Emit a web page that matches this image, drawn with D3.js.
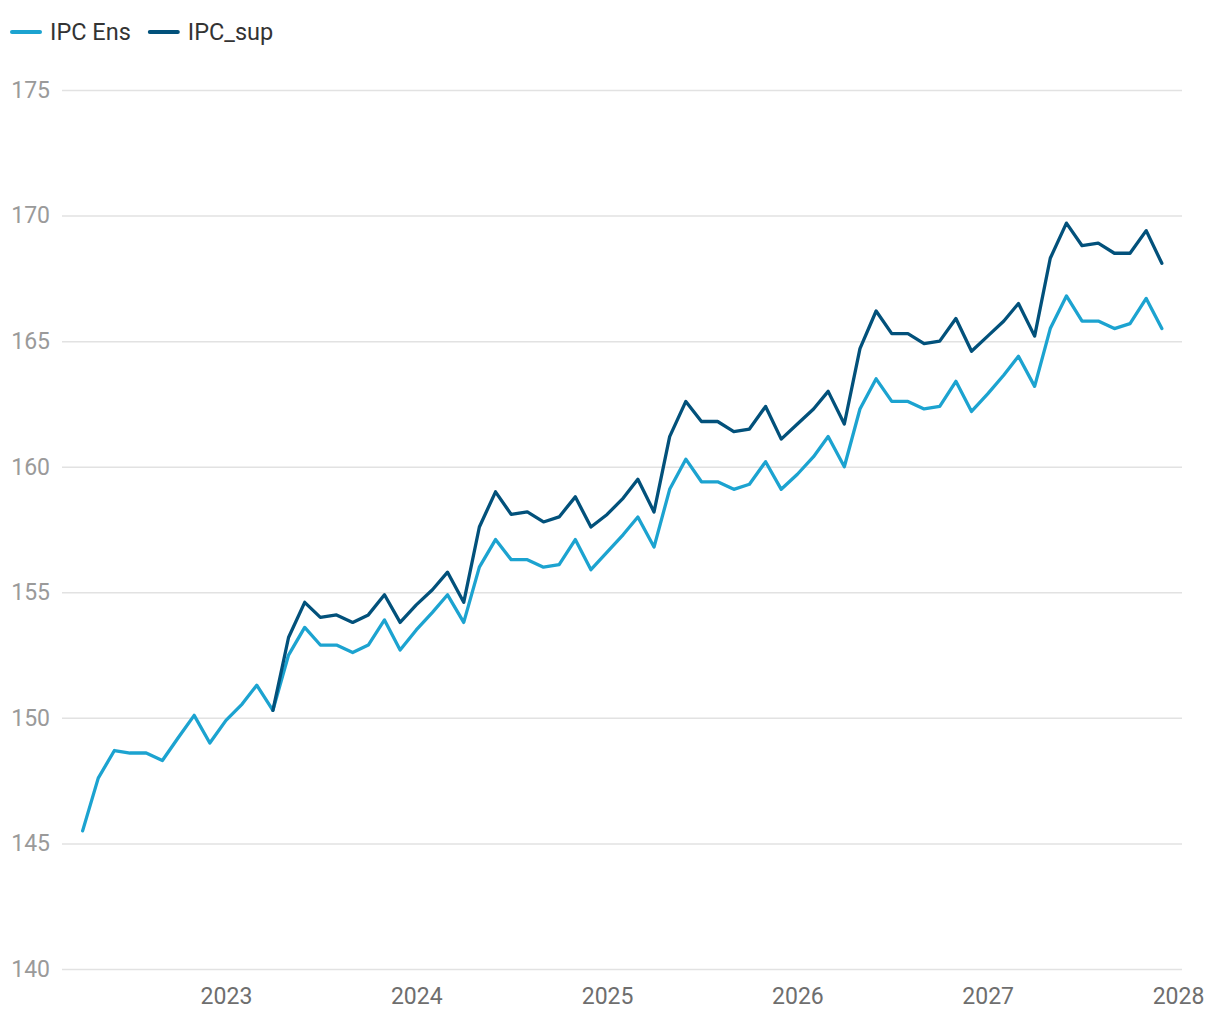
<!DOCTYPE html>
<html>
<head>
<meta charset="utf-8">
<script src="https://cdn.jsdelivr.net/npm/d3@7"></script>
<style>
  html, body { margin: 0; padding: 0; background: #fff; }
  svg { display: block; font-family: Roboto, "Noto Sans", sans-serif; }
</style>
</head>
<body>
<svg id="chart" width="1220" height="1020"></svg>
<script>
// ---- data ----
const months = [
  "2022-04","2022-05","2022-06","2022-07","2022-08","2022-09","2022-10","2022-11","2022-12",
  "2023-01","2023-02","2023-03","2023-04","2023-05","2023-06","2023-07","2023-08","2023-09","2023-10","2023-11","2023-12",
  "2024-01","2024-02","2024-03","2024-04","2024-05","2024-06","2024-07","2024-08","2024-09","2024-10","2024-11","2024-12",
  "2025-01","2025-02","2025-03","2025-04","2025-05","2025-06","2025-07","2025-08","2025-09","2025-10","2025-11","2025-12",
  "2026-01","2026-02","2026-03","2026-04","2026-05","2026-06","2026-07","2026-08","2026-09","2026-10","2026-11","2026-12",
  "2027-01","2027-02","2027-03","2027-04","2027-05","2027-06","2027-07","2027-08","2027-09","2027-10","2027-11","2027-12"
];
const ipcEns = [
  145.5,147.6,148.7,148.6,148.6,148.3,149.2,150.1,149.0,
  149.9,150.55,151.3,150.3,152.5,153.6,152.9,152.9,152.6,152.9,153.9,152.7,
  153.5,154.2,154.9,153.8,156.0,157.1,156.3,156.3,156.0,156.1,157.1,155.9,
  156.6,157.3,158.0,156.8,159.1,160.3,159.4,159.4,159.1,159.3,160.2,159.1,
  159.7,160.4,161.2,160.0,162.3,163.5,162.6,162.6,162.3,162.4,163.4,162.2,
  162.9,163.65,164.4,163.2,165.5,166.8,165.8,165.8,165.5,165.7,166.7,165.5
];
const ipcSup = [
  null,null,null,null,null,null,null,null,null,
  null,null,null,150.3,153.2,154.6,154.0,154.1,153.8,154.1,154.9,153.8,
  154.5,155.1,155.8,154.6,157.6,159.0,158.1,158.2,157.8,158.0,158.8,157.6,
  158.1,158.75,159.5,158.2,161.2,162.6,161.8,161.8,161.4,161.5,162.4,161.1,
  161.7,162.3,163.0,161.7,164.7,166.2,165.3,165.3,164.9,165.0,165.9,164.6,
  165.2,165.8,166.5,165.2,168.3,169.7,168.8,168.9,168.5,168.5,169.4,168.1
];
const seriesNames = ["IPC Ens", "IPC_sup"];
const seriesColors = ["#1ca3d0", "#02517b"];
const yTicks = [140, 145, 150, 155, 160, 165, 170, 175];
const xTickYears = ["2023", "2024", "2025", "2026", "2027", "2028"];

// ---- layout ----
const svg = d3.select("#chart");
const parseM = d3.timeParse("%Y-%m");
const parseY = d3.timeParse("%Y");
const dates = months.map(parseM);

const gridLeft = 62, gridRight = 1182;
const x = d3.scaleTime()
  .domain([parseM("2022-04"), parseY("2028")])
  .range([82.6, 1178]);
const y = d3.scaleLinear().domain([140, 175]).range([969, 90]);

// gridlines + y labels
const yAxis = d3.axisLeft(y).tickValues(yTicks).tickSize(-(gridRight - gridLeft)).tickPadding(12).tickFormat(d3.format("d"));
const gy = svg.append("g").attr("transform", `translate(${gridLeft},0)`).call(yAxis);
gy.select(".domain").remove();
gy.selectAll(".tick line").attr("stroke", "#e2e2e2").attr("stroke-width", 1.5);
gy.selectAll(".tick text").attr("fill", "#9a9a9a").attr("font-size", 23).attr("font-family", "Roboto");

// x labels
const xAxis = d3.axisBottom(x).tickValues(xTickYears.map(parseY)).tickSize(0).tickPadding(19).tickFormat(d3.timeFormat("%Y"));
const gx = svg.append("g").attr("transform", `translate(0,969)`).call(xAxis);
gx.select(".domain").remove();
gx.selectAll(".tick text").attr("fill", "#6e6e6e").attr("font-size", 23).attr("font-family", "Roboto");

// lines
const seriesVals = [ipcEns, ipcSup];
seriesVals.forEach((vals, i) => {
  const line = d3.line()
    .defined((d, j) => vals[j] != null)
    .x((d, j) => x(dates[j]))
    .y((d, j) => y(vals[j]));
  svg.append("path")
    .datum(vals)
    .attr("fill", "none")
    .attr("stroke", seriesColors[i])
    .attr("stroke-width", 3.3)
    .attr("stroke-linejoin", "round")
    .attr("stroke-linecap", "round")
    .attr("d", line);
});

// legend
const legend = svg.append("g").attr("transform", "translate(12,32)");
let lx = 0;
seriesNames.forEach((name, i) => {
  const g = legend.append("g").attr("transform", `translate(${lx},0)`);
  g.append("line").attr("x1", 0).attr("x2", 28).attr("y1", 0).attr("y2", 0)
    .attr("stroke", seriesColors[i]).attr("stroke-width", 4).attr("stroke-linecap", "round");
  const t = g.append("text").attr("x", 38).attr("y", 0).attr("dy", "0.35em")
    .attr("fill", "#333").attr("font-size", 23.5).attr("font-family", "Roboto").text(name);
  lx += 38 + t.node().getComputedTextLength() + 19;
});
</script>
</body>
</html>
